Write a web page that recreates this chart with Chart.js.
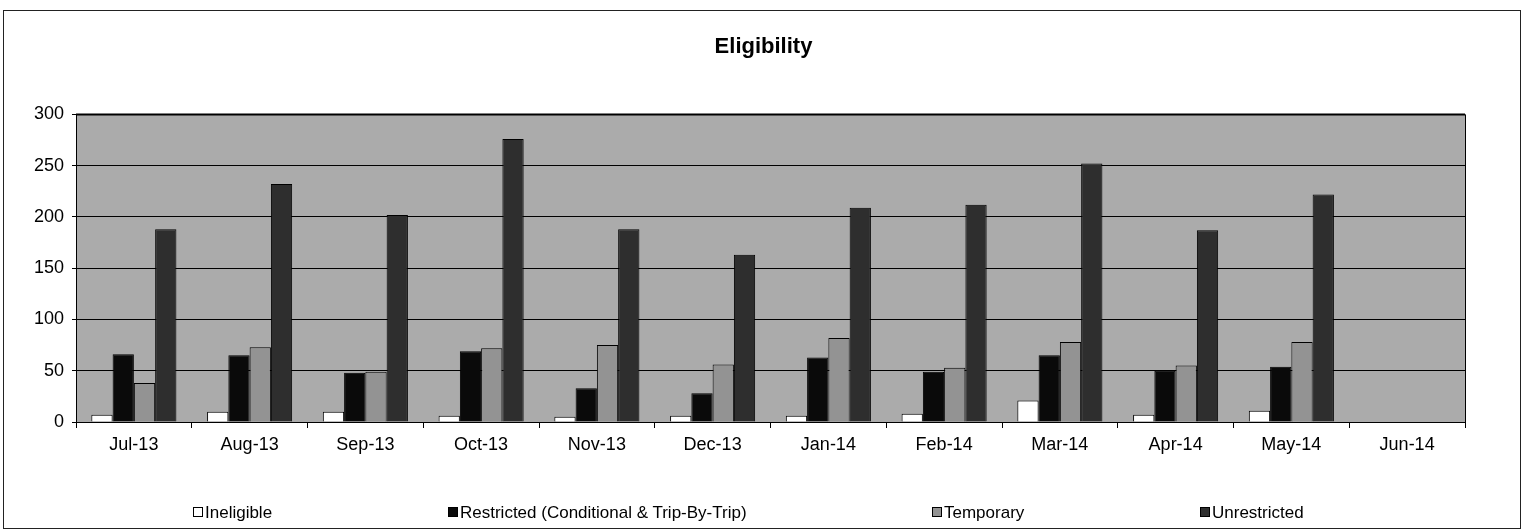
<!DOCTYPE html>
<html>
<head>
<meta charset="utf-8">
<script src="https://cdn.jsdelivr.net/npm/chart.js@4/dist/chart.umd.min.js"></script>
<style>
  html, body { margin: 0; padding: 0; background: #fff; }
  #wrap { position: relative; width: 1527px; height: 532px; overflow: hidden; }
  #frame { position: absolute; left: 3px; top: 10px; width: 1518px; height: 519px; border: 1px solid #222; box-sizing: border-box; }
  canvas { position: absolute; left: 0; top: 0; }
  .lg { position: absolute; top: 503px; font: 17px "Liberation Sans", Arial, sans-serif; color: #000; white-space: nowrap; line-height: 20px; }
  .lg i { display: inline-block; width: 8px; height: 8px; border: 1px solid #000; margin-right: 2px; vertical-align: 1px; }
</style>
</head>
<body>
<div id="wrap">
  <div id="frame"></div>
  <canvas id="c" width="1527" height="532"></canvas>
  <div id="legend"></div>
</div>
<script>
const categories = ["Jul-13","Aug-13","Sep-13","Oct-13","Nov-13","Dec-13","Jan-14","Feb-14","Mar-14","Apr-14","May-14","Jun-14"];
const ineligible   = [7, 10, 10, 6, 5, 6, 6, 8, 21, 7, 11, null];
const restricted   = [66, 65, 48, 69, 33, 28, 63, 49, 65, 50, 54, null];
const temporary    = [38, 73, 49, 72, 75, 56, 82, 53, 78, 55, 78, null];
const unrestricted = [188, 232, 202, 276, 188, 163, 209, 212, 252, 187, 222, null];
const yTicks = [0, 50, 100, 150, 200, 250, 300];
const seriesNames = ["Ineligible", "Restricted (Conditional & Trip-By-Trip)", "Temporary", "Unrestricted"];
const seriesColors = ["#ffffff", "#0a0a0a", "#939393", "#2e2e2e"];
const legendX = [193, 448, 932, 1200];

const FONT = '"Liberation Sans", Arial, sans-serif';

const plotBg = {
  id: 'plotBg',
  beforeDraw(chart) {
    const {ctx, chartArea: a} = chart;
    ctx.save();
    ctx.fillStyle = '#ababab';
    ctx.fillRect(a.left, a.top, a.right - a.left, a.bottom - a.top);
    ctx.restore();
  },
  afterDraw(chart) {
    const {ctx, chartArea: a} = chart;
    ctx.save();
    ctx.strokeStyle = '#000';
    ctx.lineWidth = 2;
    ctx.beginPath();
    ctx.moveTo(a.left, a.top);
    ctx.lineTo(a.right, a.top);
    ctx.stroke();
    ctx.lineWidth = 1;
    ctx.beginPath();
    ctx.moveTo(a.right + 0.5, a.top);
    ctx.lineTo(a.right + 0.5, a.bottom);
    ctx.stroke();
    ctx.restore();
  }
};

const datasets = [ineligible, restricted, temporary, unrestricted].map((d, i) => ({
  label: seriesNames[i],
  data: d,
  backgroundColor: seriesColors[i],
  borderColor: '#000',
  borderWidth: 1,
  categoryPercentage: 0.735,
  barPercentage: 1.0,
  yAxisID: 'y'
}));

new Chart(document.getElementById('c'), {
  type: 'bar',
  data: { labels: categories, datasets },
  plugins: [plotBg],
  options: {
    responsive: false,
    animation: false,
    layout: { padding: { left: 0, right: 0, top: 0, bottom: 68 } },
    plugins: {
      legend: { display: false },
      tooltip: { enabled: false },
      title: {
        display: true,
        text: 'Eligibility',
        color: '#000',
        font: { family: FONT, size: 22, weight: 'bold' },
        padding: { top: 34, bottom: 54 }
      }
    },
    scales: {
      x: {
        offset: true,
        grid: { offset: true, drawOnChartArea: false, drawTicks: true, tickLength: 6, color: '#000' },
        border: { display: true, color: '#000', width: 1 },
        ticks: { color: '#000', font: { family: FONT, size: 18 }, padding: 6, maxRotation: 0, autoSkip: false },
        afterFit(s) { s.height = 42; }
      },
      y: {
        min: 0, max: 300,
        afterBuildTicks(s) { s.ticks = yTicks.map(v => ({ value: v })); },
        grid: { color: '#000', lineWidth: 1, tickLength: 4, drawTicks: true },
        border: { display: true, color: '#000', width: 1 },
        ticks: { color: '#000', font: { family: FONT, size: 18 }, padding: 8 },
        afterFit(s) { s.width = 76; }
      },
      yRight: {
        position: 'right',
        min: 0, max: 300,
        display: true,
        grid: { display: false, drawOnChartArea: false },
        border: { display: false },
        ticks: { display: false },
        afterFit(s) { s.width = 62; }
      }
    }
  }
});

const lg = document.getElementById('legend');
seriesNames.forEach((n, i) => {
  const d = document.createElement('div');
  d.className = 'lg';
  d.style.left = legendX[i] + 'px';
  const box = document.createElement('i');
  box.style.background = seriesColors[i];
  d.appendChild(box);
  d.appendChild(document.createTextNode(n));
  lg.appendChild(d);
});
</script>
</body>
</html>
